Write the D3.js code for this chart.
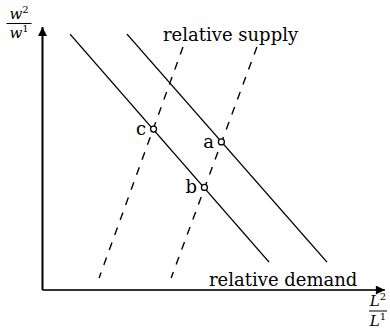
<!DOCTYPE html>
<html><head><meta charset="utf-8">
<script src="https://cdn.jsdelivr.net/npm/d3@7"></script>
<style>body{margin:0;background:#fff}svg{display:block}</style>
</head><body>
<svg id="chart" width="390" height="334"></svg>
<script>
// ---- data (abstract units) ----
const demand1 = [[0.86, 9.73], [7.08, 1.06]];
const demand2 = [[2.64, 9.73], [8.89, 1.06]];
const supply1 = [[4.39, 9.24], [1.77, 0.46]];
const supply2 = [[6.70, 9.24], [4.02, 0.46]];
const pointLabels = ["c", "a", "b"];
const pointX = [3.47, 5.59, 5.06];
const pointY = [6.12, 5.63, 3.90];
const curveLabels = ["relative supply", "relative demand"];
const xAxisMax = 10.7;
const yAxisMax = 10;

const svg = d3.select("#chart");
const x = d3.scaleLinear().domain([0, 10]).range([42.5, 362.5]);
const y = d3.scaleLinear().domain([0, 10]).range([290, 27]);
const line = d3.line().x(d => x(d[0])).y(d => y(d[1]));
const serif = "DejaVu Serif, serif";

// arrow markers
const defs = svg.append("defs");
defs.append("marker").attr("id", "arr").attr("viewBox", "0 0 10 10")
  .attr("refX", 10).attr("refY", 5).attr("markerWidth", 10).attr("markerHeight", 9)
  .attr("markerUnits", "userSpaceOnUse").attr("orient", "auto")
  .append("path").attr("d", "M0,0 L10,5 L0,10 Z").attr("fill", "#000");

// axes
svg.append("path").attr("d", line([[0, 0], [xAxisMax, 0]]))
  .attr("stroke", "#333").attr("stroke-width", 2).attr("fill", "none").attr("marker-end", "url(#arr)");
svg.append("path").attr("d", line([[0, 0], [0, yAxisMax]]))
  .attr("stroke", "#000").attr("stroke-width", 2).attr("fill", "none").attr("marker-end", "url(#arr)");

// demand lines
[demand1, demand2].forEach(d => {
  svg.append("path").attr("d", line(d)).attr("stroke", "#000").attr("stroke-width", 1.4).attr("fill", "none");
});
// supply lines
[supply1, supply2].forEach(d => {
  svg.append("path").attr("d", line(d)).attr("stroke", "#000").attr("stroke-width", 1.4)
    .attr("stroke-dasharray", "8,8").attr("fill", "none");
});

// curve labels
svg.append("text").attr("x", 163).attr("y", 41).attr("font-family", serif).attr("font-size", 18)
  .attr("fill", "#000").text(curveLabels[0]);
svg.append("text").attr("x", 209).attr("y", 286).attr("font-family", serif).attr("font-size", 18)
  .attr("fill", "#000").text(curveLabels[1]);

// equilibrium points
const pts = pointLabels.map((l, i) => ({l, x: pointX[i], y: pointY[i]}));
svg.selectAll("circle.pt").data(pts).join("circle").attr("class", "pt")
  .attr("cx", d => x(d.x)).attr("cy", d => y(d.y)).attr("r", 3)
  .attr("fill", "#fff").attr("stroke", "#000").attr("stroke-width", 1.3);
svg.selectAll("text.pl").data(pts).join("text").attr("class", "pl")
  .attr("x", d => x(d.x) - 7.5).attr("y", d => y(d.y) + 6)
  .attr("text-anchor", "end").attr("font-family", serif).attr("font-size", 18).attr("fill", "#000")
  .text(d => d.l);

// axis fraction labels
function frac(cx, topBase, bar, botBase, sym, w) {
  const g = svg.append("g").attr("font-family", serif).attr("fill", "#000");
  const t1 = g.append("text").attr("x", cx).attr("y", topBase).attr("text-anchor", "middle");
  t1.append("tspan").attr("font-style", "italic").attr("font-size", 15).text(sym);
  t1.append("tspan").attr("font-size", 10).attr("dy", -6).text("2");
  const t2 = g.append("text").attr("x", cx).attr("y", botBase).attr("text-anchor", "middle");
  t2.append("tspan").attr("font-style", "italic").attr("font-size", 15).text(sym);
  t2.append("tspan").attr("font-size", 10).attr("dy", -6).text("1");
  g.append("line").attr("x1", cx - w / 2).attr("x2", cx + w / 2).attr("y1", bar).attr("y2", bar)
    .attr("stroke", "#000").attr("stroke-width", 1);
}
frac(19, 19, 23.5, 38, "w", 25);
frac(378, 306, 311, 326, "L", 18);
</script>
</body></html>
